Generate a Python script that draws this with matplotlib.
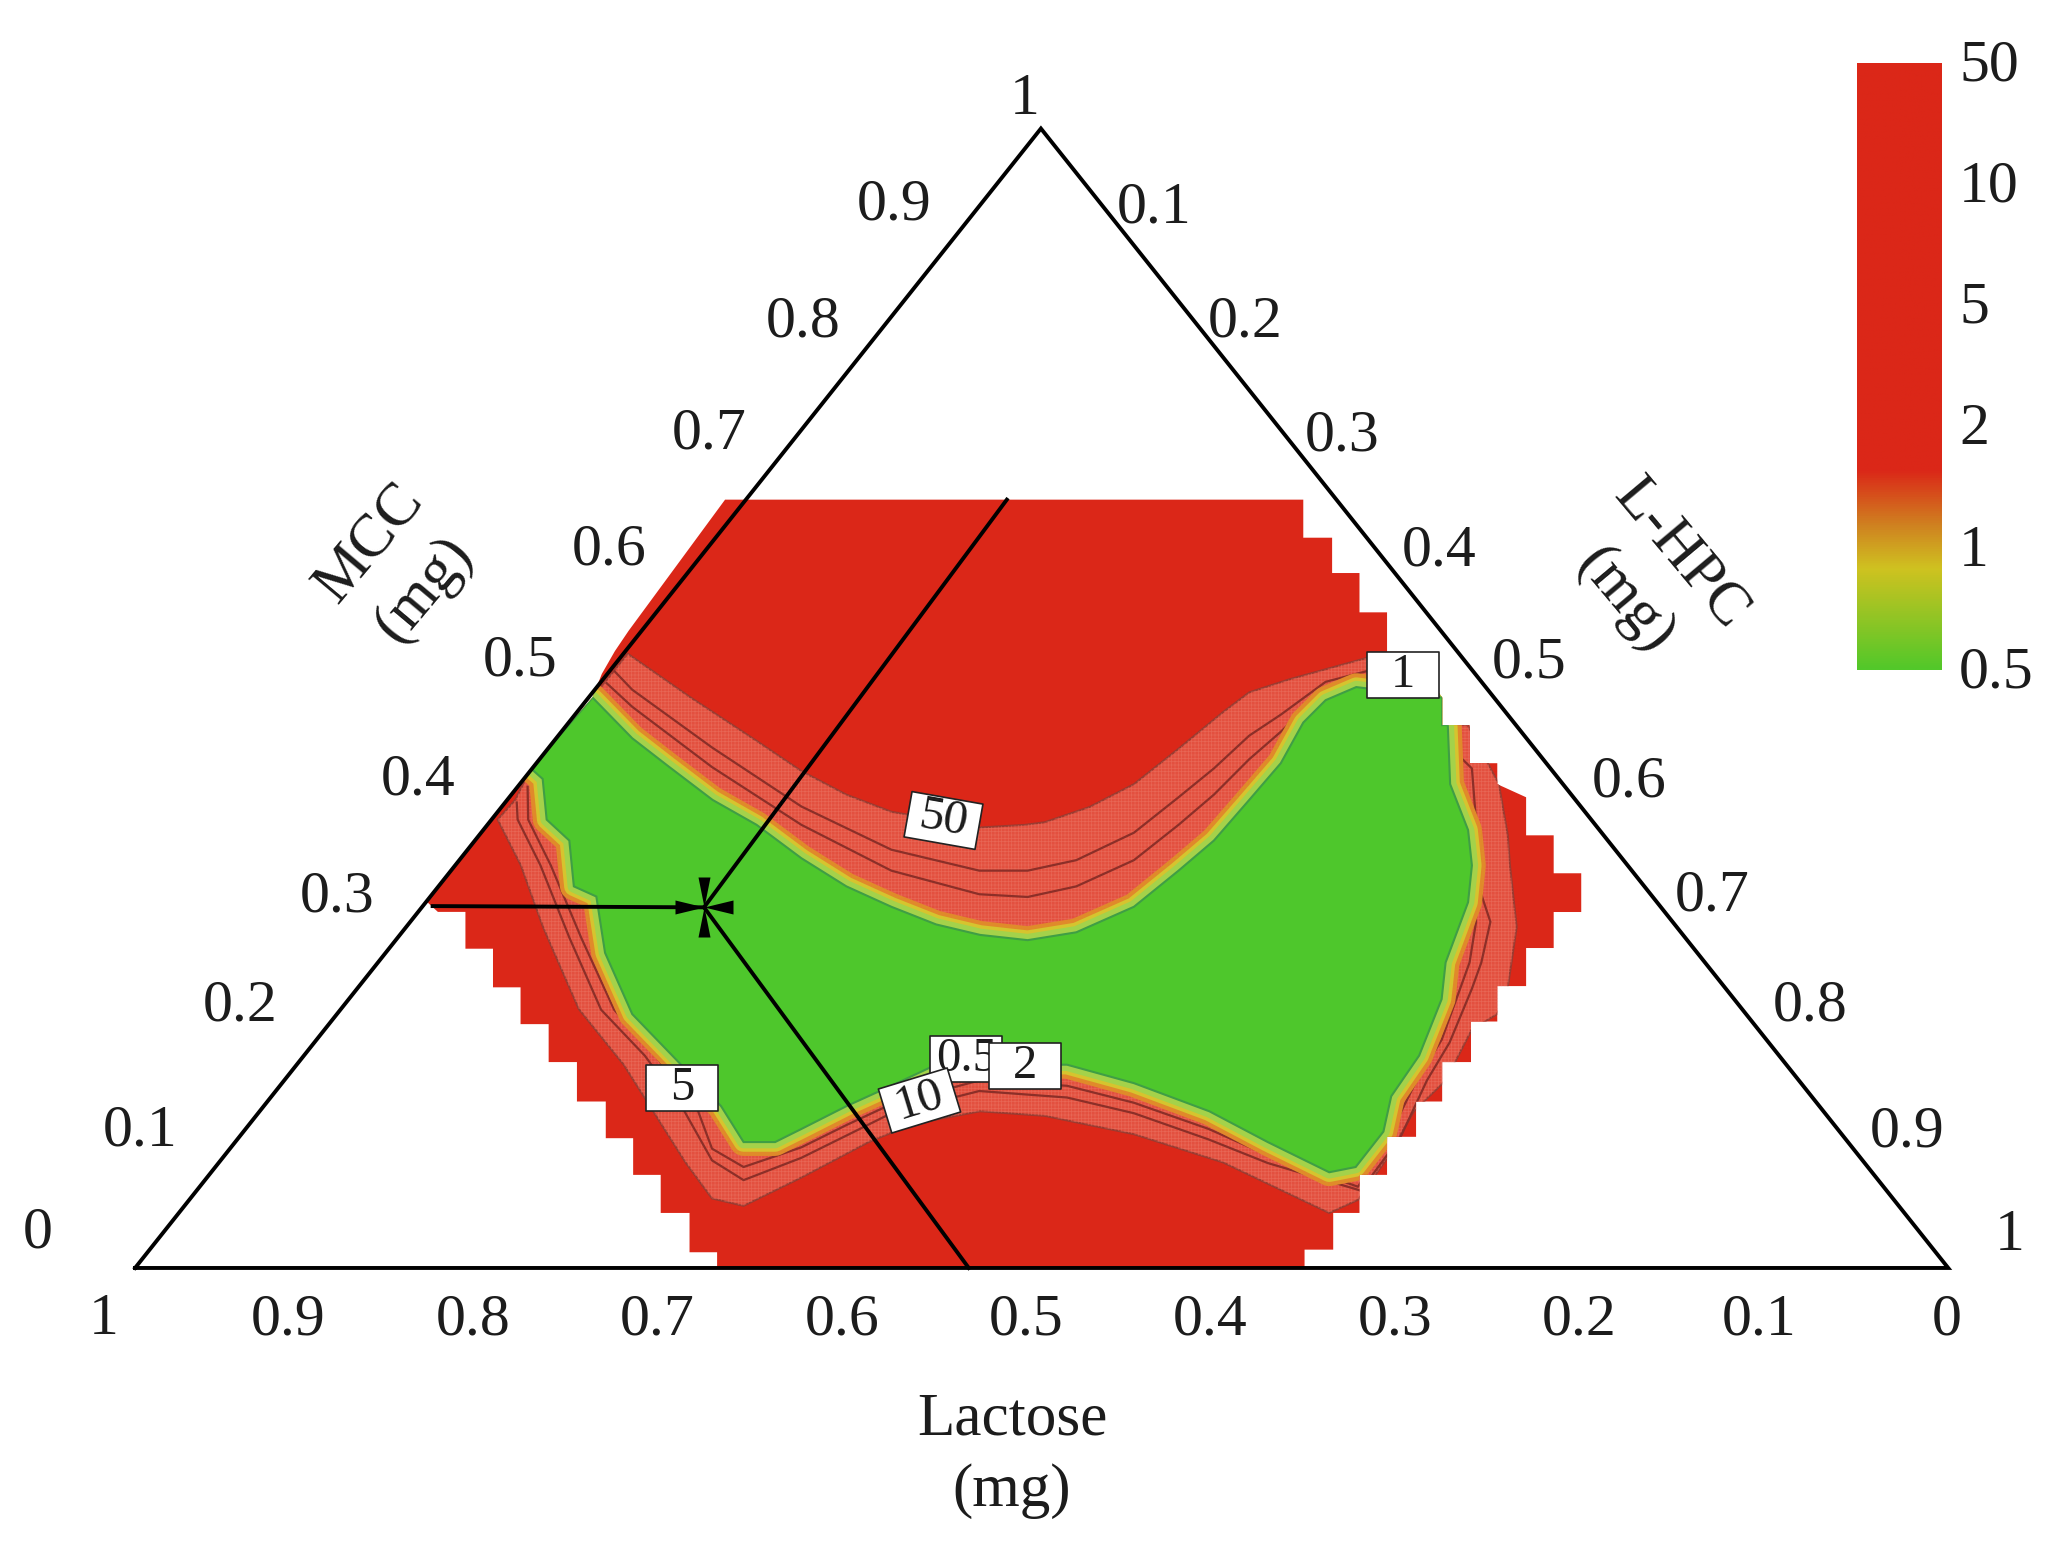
import numpy as np
import matplotlib
matplotlib.use("Agg")
import matplotlib.pyplot as plt
from matplotlib.patches import Polygon
from matplotlib.path import Path
from matplotlib.colors import LinearSegmentedColormap

plt.rcParams['font.family'] = ['Liberation Serif', 'DejaVu Serif']
plt.rcParams['hatch.linewidth'] = 0.5

# All compositions: base = position along the Lactose edge (0 left .. 1 right), mcc = MCC fraction
triangle_base = [0, 1, 0.4996, 0]
triangle_mcc = [0, 0, 1, 0]

domain_base = [.3254,.6443,.6443,.6602,.6602,.6753,.6753,.6905,.6905,.7020,.7209,.7209,.7361,.7361,.7513,.7513,.7672,.7672,.7824,.7824,.7976,.7976,.7824,.7824,.7672,.7672,.7513,.7513,.7368,.7368,.7209,.7209,.7065,.7065,.6905,.6905,.6753,.6753,.6608,.6608,.6450,.6450,
               .3210,.3210,.3058,.3058,.2899,.2899,.2747,.2747,.2596,.2596,.2437,.2437,.2281,.2281,.2126,.2126,.1974,.1974,.1822,.1822,.1670,.1612,.2183,.2523,.2574,.2646,.2722]
domain_mcc = [.6743,.6743,.6409,.6409,.6099,.6099,.5754,.5754,.5408,.5408,.5006,.4764,.4764,.4430,.4430,.4246,.4131,.3797,.3797,.3464,.3464,.3124,.3124,.2808,.2808,.2474,.2474,.2163,.2163,.1807,.1807,.1461,.1461,.1151,.1151,.0817,.0817,.0483,.0483,.0161,.0161,0,
              0,.0138,.0138,.0483,.0483,.0817,.0817,.1139,.1139,.1461,.1461,.1807,.1807,.2140,.2140,.2463,.2463,.2802,.2802,.3125,.3125,.3210,.4384,.5006,.5213,.5413,.5592]

contour50_base = [.2717,.3062,.3428,.3675,.3923,.4171,.4661,.4908,.5017,.5263,.5509,.5755,.6001,.6145,.6368,.6786,.7060,.7230,.7230,.7350,.7522,.7571,.7583,.7620,.7570,.7512,.7373,.7228,.7053,.6907,.6745,
                  .6586,.6001,.5509,.5017,.4661,.4294,.4046,.3675,.3356,.3182,.3036,.2695,.2447,.2250,.2128,.2000,.2097,.2183,.2523]
contour50_mcc = [.5391,.5009,.4626,.4361,.4154,.4004,.3866,.3889,.3912,.4045,.4246,.4557,.4879,.5052,.5167,.5351,.5408,.5006,.4764,.4764,.4246,.3797,.3533,.2992,.2451,.2228,.2094,.1646,.1375,.0967,.0598,
                 .0483,.0926,.1174,.1335,.1375,.1266,.1105,.0794,.0545,.0610,.0926,.1784,.2273,.2992,.3533,.3935,.4108,.4384,.5006]

contour10_base = [.2645,.2742,.3182,.3675,.4171,.4656,.4923,.5191,.5509,.5755,.5950,.6145,.6319,.6566,.6815,.7373,.7402,.7410,.7475,.7425,.7373,.7250,.7125,.6980,.6760,
                  .6247,.5921,.5509,.5140,.4656,.4171,.3923,.3675,.3356,.3182,.3014,.2811,.2570,.2395,.2236,.2110,.2105]
contour10_mcc = [.5236,.5075,.4568,.4050,.3671,.3487,.3487,.3579,.3820,.4131,.4384,.4672,.4856,.5144,.5247,.4384,.3797,.3349,.3038,.2681,.2451,.1979,.1646,.1151,.0679,
                 .0921,.1128,.1358,.1496,.1553,.1358,.1162,.0967,.0771,.0944,.1420,.1864,.2267,.2900,.3533,.3935,.4085]

contour5_base = [.2601,.2742,.3182,.3675,.4171,.4656,.4923,.5191,.5509,.5755,.5950,.6145,.6319,.6566,.6815,.7308,.7352,.7373,.7396,.7360,.7308,.7206,.7068,.6928,.6745,
                 .6247,.5921,.5509,.5140,.4656,.4171,.3923,.3675,.3356,.3182,.3095,.2869,.2642,.2460,.2293,.2168,.2165]
contour5_mcc = [.5132,.4925,.4396,.3889,.3487,.3280,.3256,.3349,.3579,.3889,.4154,.4465,.4706,.5086,.5190,.4384,.3797,.3349,.3038,.2681,.2451,.2002,.1646,.1197,.0713,
                .0990,.1220,.1450,.1599,.1646,.1438,.1254,.1059,.0886,.1047,.1420,.1864,.2267,.2900,.3533,.3935,.4223]

green_base = [.2523,.2742,.2938,.3185,.3428,.3675,.3923,.4171,.4418,.4661,.4923,.5191,.5509,.5755,.5950,.6145,.6319,.6443,.6566,.6735,.7209,.7209,.7240,.7253,.7352,.7373,.7352,.7228,.7206,.7082,.6928,.6885,.6732,.6586,.6247,.5925,.5509,.5140,
              .4418,.4171,.3923,.3675,.3530,.3356,.3232,.2987,.2742,.2592,.2544,.2420,.2395,.2270,.2248,.2183]
green_mcc = [.5006,.4649,.4407,.4108,.3889,.3596,.3349,.3170,.3015,.2923,.2877,.2946,.3170,.3487,.3751,.4108,.4430,.4787,.4983,.5098,.5006,.4764,.4764,.4246,.3843,.3533,.3210,.2681,.2359,.1864,.1507,.1197,.0886,.0840,.1105,.1375,.1622,.1784,
             .1784,.1599,.1420,.1220,.1105,.1105,.1420,.1824,.2228,.2766,.3260,.3349,.3751,.3935,.4292,.4384]

design_base, design_mcc = .3138, .3165
guide_up_base, guide_up_mcc = .4808, .6743
guide_down_base, guide_down_mcc = .4598, 0
guide_left_base, guide_left_mcc = .1641, .3176

lactose_ticks = ['1', '0.9', '0.8', '0.7', '0.6', '0.5', '0.4', '0.3', '0.2', '0.1', '0']
lactose_tick_base = [-.0174, .0846, .1865, .2878, .3897, .4916, .5929, .6948, .7967, .8958, .9992]
mcc_ticks = ['0', '0.1', '0.2', '0.3', '0.4', '0.5', '0.6', '0.7', '0.8', '0.9', '1']
mcc_tick_base = [-.0535, .0029, .0578, .1113, .1562, .2126, .2617, .3167, .3687, .4186, .4909]
mcc_tick_mcc = [.0304, .1201, .2294, .3250, .4274, .5321, .6299, .7312, .8301, .9325, 1.0246]
lhpc_ticks = ['0.1', '0.2', '0.3', '0.4', '0.5', '0.6', '0.7', '0.8', '0.9', '1']
lhpc_tick_base = [.5618, .6124, .6659, .7194, .7686, .8242, .8698, .9240, .9775, 1.0339]
lhpc_tick_mcc = [.9302, .8301, .7300, .6287, .5309, .4262, .3261, .2294, .1190, .0281]

contour_labels = ['0.5', '50', '5', '1', '10', '2']
contour_label_base = [.4584, .4454, .3015, .6991, .4324, .4909]
contour_label_mcc = [.1830, .3935, .1576, .5201, .1473, .1772]
contour_label_rot = [0, -10, 0, 0, 17, 0]

scale_labels = ['0.5', '1', '2', '5', '10', '50']

RED = '#db2718'
BAND = '#e3503f'
GREEN = '#4ec72c'
INK = '#1c1c1c'
FS = 43

fig = plt.figure(figsize=(20.57, 15.46), dpi=100)
ax = fig.add_axes([0, 0, 1, 1])
ax.set_xlim(-0.0745, 1.0600)
ax.set_ylim(-0.2440, 1.1128)
ax.axis('off')

domain = Polygon(np.column_stack([domain_base, domain_mcc]), closed=True, fc=RED, ec='none', zorder=1)
ax.add_patch(domain)

outer_xy = np.column_stack([contour50_base, contour50_mcc])
band = Polygon(outer_xy, closed=True, fc=BAND, ec='#9a3a30', lw=1.4, zorder=2)
ax.add_patch(band)
band.set_clip_path(domain)
mesh = Polygon(outer_xy, closed=True, fc='none', ec='#ee8272', lw=0, hatch='+++++', alpha=0.45, zorder=2.5)
ax.add_patch(mesh)
mesh.set_clip_path(domain)

for bx, by in ((contour10_base, contour10_mcc), (contour5_base, contour5_mcc)):
    line, = ax.plot(bx, by, color='#8c2f28', lw=1.6, zorder=3)
    line.set_clip_path(domain)

green_xy = np.column_stack([green_base, green_mcc])
for col, lw in (('#e08a2a', 20), ('#d6c42e', 14), ('#a4d24a', 9)):
    rim = Polygon(green_xy, closed=True, fc='none', ec=col, lw=lw, joinstyle='round', zorder=4)
    ax.add_patch(rim)
    rim.set_clip_path(domain)
core = Polygon(green_xy, closed=True, fc=GREEN, ec='#3f9e45', lw=1.5, zorder=5)
ax.add_patch(core)
core.set_clip_path(domain)

ax.plot(triangle_base, triangle_mcc, color='black', lw=2.8, zorder=6, solid_joinstyle='miter')
ax.plot([design_base, guide_up_base], [design_mcc, guide_up_mcc], color='black', lw=2.8, zorder=6)
ax.plot([design_base, guide_down_base], [design_mcc, guide_down_mcc], color='black', lw=2.8, zorder=6)
ax.plot([design_base, guide_left_base], [design_mcc, guide_left_mcc], color='black', lw=2.8, zorder=6)

# four wedges pointing at the design point
wv, hv, wh, hh = 6, 30, 29, 7
verts, codes = [], []
for tri in ([(0, 0), (-wv, hv), (wv, hv)], [(0, 0), (wv, -hv), (-wv, -hv)],
            [(0, 0), (wh, hh), (wh, -hh)], [(0, 0), (-wh, -hh), (-wh, hh)]):
    verts += tri + [(0, 0)]
    codes += [Path.MOVETO, Path.LINETO, Path.LINETO, Path.CLOSEPOLY]
star = Path(verts, codes)
ax.plot([design_base], [design_mcc], marker=star, ms=2 * hv * 0.72, mfc='black', mew=0, ls='none', zorder=7)


def box_marker(angle):
    a = np.deg2rad(angle)
    corners = np.array([[-36, -23], [36, -23], [36, 23], [-36, 23], [-36, -23]], float)
    rot = np.array([[np.cos(a), -np.sin(a)], [np.sin(a), np.cos(a)]])
    pts = corners @ rot.T
    return Path(pts, closed=True), np.abs(pts).max()


for i, (lab, bx, by, rot) in enumerate(zip(contour_labels, contour_label_base, contour_label_mcc, contour_label_rot)):
    p, m = box_marker(rot)
    ax.plot([bx], [by], marker=p, ms=2 * m * 0.72, mfc='white', mec='#222222', mew=1.2, ls='none', zorder=8 + i)
    ax.text(bx, by, lab, fontsize=35, color=INK, ha='center', va='center', rotation=rot,
            rotation_mode='anchor', zorder=8 + i)

for lab, bx in zip(lactose_ticks, lactose_tick_base):
    ax.text(bx, -.0460, lab, fontsize=FS, color=INK, ha='center', va='center')
for lab, bx, by in zip(mcc_ticks, mcc_tick_base, mcc_tick_mcc):
    ax.text(bx, by, lab, fontsize=FS, color=INK, ha='center', va='center')
for lab, bx, by in zip(lhpc_ticks, lhpc_tick_base, lhpc_tick_mcc):
    ax.text(bx, by, lab, fontsize=FS, color=INK, ha='center', va='center')

ax.text(.1445, .6156, 'MCC\n(mg)', fontsize=44, color=INK, ha='center', va='center', rotation=50,
        rotation_mode='anchor', linespacing=1.38, multialignment='center')
ax.text(.8370, .6064, 'L-HPC\n(mg)', fontsize=44, color=INK, ha='center', va='center', rotation=-50,
        rotation_mode='anchor', linespacing=1.38, multialignment='center')
ax.text(.4837, -.1646, 'Lactose\n(mg)', fontsize=44, color=INK, ha='center', va='center',
        linespacing=1.35, multialignment='center')

cax = fig.add_axes([1857 / 2057, 876 / 1546, 85 / 2057, 607 / 1546])
stops = [(0.0, '#52c82a'), (.83 / 5, '#cfc220'), (1.2 / 5, '#d07f20'), (1.64 / 5, RED), (1.0, RED)]
cmap = LinearSegmentedColormap.from_list('scale', stops)
cax.imshow(np.linspace(1, 0, 512)[:, None], cmap=cmap, vmin=0, vmax=1, aspect='auto', extent=[0, 1, 0, 5])
cax.set_xticks([])
cax.set_yticks([])
for s in cax.spines.values():
    s.set_visible(False)
for i, lab in enumerate(scale_labels):
    cax.text(1.2, i - 0.025, lab, transform=cax.get_yaxis_transform(), fontsize=FS, color=INK,
             ha='left', va='center')

fig.savefig('out.png', dpi=100)
